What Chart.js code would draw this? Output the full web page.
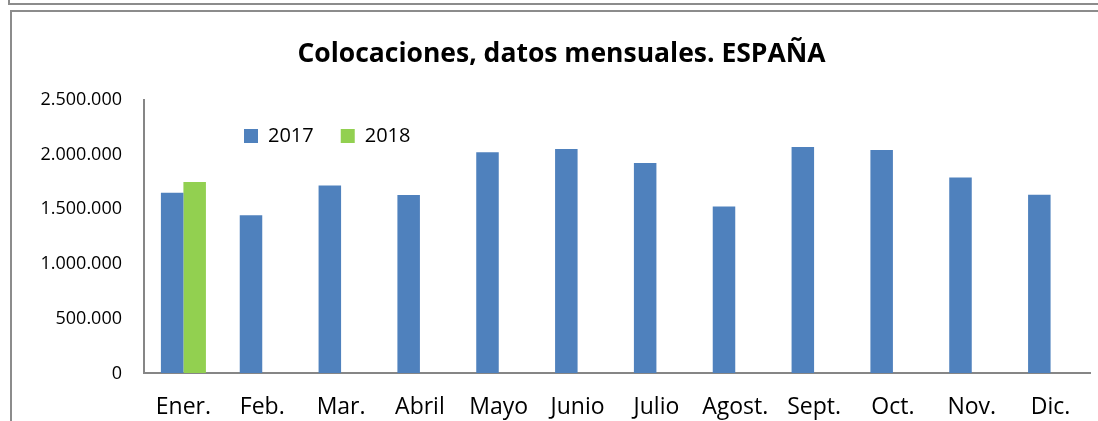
<!DOCTYPE html>
<html>
<head>
<meta charset="utf-8">
<title>Colocaciones, datos mensuales. ESPAÑA</title>
<script src="https://cdn.jsdelivr.net/npm/chart.js@4.4.1/dist/chart.umd.min.js"></script>
<style>
	html, body { margin: 0; padding: 0; background: #fff; }
	#wrap { position: relative; width: 1098px; height: 421px; overflow: hidden; }
	.line { position: absolute; background: #8c8c8c; }
	#chart { position: absolute; left: 0; top: 0; }
</style>
</head>
<body>
<div id="wrap">
	<div class="line" style="left:8px; top:0; width:2px; height:5px;"></div>
	<div class="line" style="left:8px; top:3px; width:1090px; height:2px;"></div>
	<div class="line" style="left:10px; top:10px; width:2px; height:411px;"></div>
	<div class="line" style="left:10px; top:10px; width:1088px; height:2px;"></div>
	<canvas id="chart" width="1098" height="421"></canvas>
</div>
<script>
var months = ["Ener.", "Feb.", "Mar.", "Abril", "Mayo", "Junio", "Julio", "Agost.", "Sept.", "Oct.", "Nov.", "Dic."];
var values2017 = [1650000, 1446000, 1718000, 1629000, 2021000, 2051000, 1922000, 1525000, 2069000, 2042000, 1791000, 1632000];
var values2018 = [1748000, null, null, null, null, null, null, null, null, null, null, null];
var yTicks = [0, 500000, 1000000, 1500000, 2000000, 2500000];

function puntos(n) {
	return String(n).replace(/\B(?=(\d{3})+(?!\d))/g, ".");
}

// legend floats inside the plot (excel style): it takes no layout room,
// then gets placed after the layout is done
var legendInside = {
	id: "legendInside",
	beforeLayout: function (chart) {
		var lg = chart.legend;
		if (lg && !lg.fitOrig) {
			lg.fitOrig = lg.fit;
			lg.fit = function () {
				this.fitOrig();
				this.realHeight = this.height;
				this.height = 0;
			};
		}
	},
	afterLayout: function (chart) {
		var lg = chart.legend;
		lg.left = 217;
		lg.top = 99;
		lg.right = lg.left + lg.width;
		lg.height = lg.realHeight;
		lg.bottom = lg.top + lg.height;
	}
};

var data1 = {
	labels: months,
	datasets: [
		{
			label: "2017",
			data: values2017,
			backgroundColor: "#4f81bd",
			borderWidth: 0
		},
		{
			label: "2018",
			data: values2018,
			backgroundColor: "#92d050",
			borderWidth: 0
		}
	]
};

var options1 = {
	responsive: false,
	animation: false,
	layout: {
		padding: { left: 33, right: 8, top: 0, bottom: -20 }
	},
	datasets: {
		bar: { categoryPercentage: 0.571, barPercentage: 1 }
	},
	plugins: {
		title: {
			display: true,
			text: "Colocaciones, datos mensuales. ESPAÑA",
			color: "#000",
			font: { family: "'Open Sans'", size: 26.5, weight: "bold" },
			padding: { top: 39, bottom: 29 }
		},
		legend: {
			display: true,
			position: "top",
			align: "start",
			labels: {
				boxWidth: 14,
				boxHeight: 14,
				padding: 27,
				color: "#000",
				font: { family: "'Open Sans'", size: 20 }
			}
		},
		tooltip: { enabled: false }
	},
	scales: {
		x: {
			grid: { display: true, drawOnChartArea: false, drawTicks: false },
			border: { display: true, color: "#868686", width: 2 },
			ticks: {
				color: "#000",
				padding: 20,
				maxRotation: 0,
				autoSkip: false,
				font: { family: "'Open Sans'", size: 23 }
			}
		},
		y: {
			min: yTicks[0],
			max: yTicks[yTicks.length - 1],
			afterFit: function (scale) { scale.width = 111; },
			afterBuildTicks: function (scale) {
				scale.ticks = yTicks.map(function (v) { return { value: v }; });
			},
			grid: { display: true, drawOnChartArea: false, drawTicks: false },
			border: { display: true, color: "#868686", width: 2 },
			ticks: {
				color: "#000",
				padding: 22,
				font: { family: "'Open Sans'", size: 18 },
				callback: function (v) { return puntos(v); }
			}
		}
	}
};

var chart1 = new Chart(document.getElementById("chart"), {
	type: "bar",
	data: data1,
	options: options1,
	plugins: [legendInside]
});
</script>
</body>
</html>
